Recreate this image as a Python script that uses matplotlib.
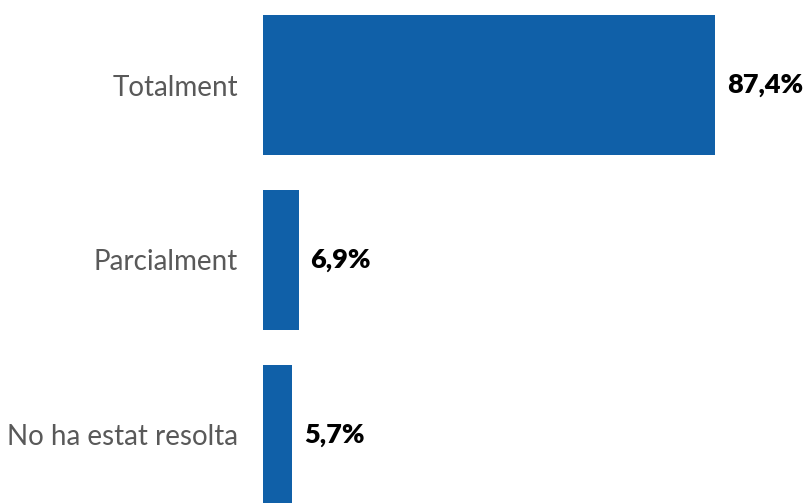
import matplotlib
matplotlib.use("Agg")
import matplotlib.pyplot as plt

categories = ["Totalment", "Parcialment", "No ha estat resolta"]
values = [87.4, 6.9, 5.7]
labels = ["87,4%", "6,9%", "5,7%"]

plt.rcParams['font.family'] = ['Lato', 'DejaVu Sans']

fig = plt.figure(figsize=(8.04, 5.03), dpi=100)
ax = fig.add_axes([263/804, 0, 517/804, 1])
y = list(range(len(categories)))
ax.barh(y, values, height=0.8, color="#1060A8")
ax.set_xlim(0, 100)
ax.set_ylim(2.389, -0.486)
ax.set_yticks(y)
ax.set_yticklabels(categories, fontsize=20, color="#595959")
ax.tick_params(axis='y', length=0, pad=18)
ax.set_xticks([])
for s in ax.spines.values():
    s.set_visible(False)
for yi, v, lab in zip(y, values, labels):
    ax.annotate(lab, (v, yi), xytext=(8.5, 0), textcoords="offset points",
                va="center", ha="left", fontsize=19.5, fontweight="heavy", color="black")
fig.savefig("out.png", dpi=100)
